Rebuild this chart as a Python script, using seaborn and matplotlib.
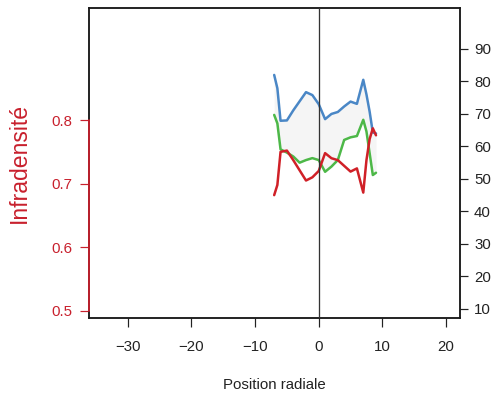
import numpy as np
import pandas as pd
import seaborn as sns
from matplotlib import pyplot as plt

# valeurs
position = [-7, -6.5, -6, -5, -4, -3, -2, -1, 0, 1, 2, 3, 4, 5, 6, 7, 7.5, 8, 8.5, 9]
bleu = [82.0, 77.9, 67.9, 68.0, 71.1, 73.9, 76.7, 75.8, 73.0, 68.4, 70.0, 70.6,
        72.3, 73.8, 73.1, 80.5, 76.0, 70.7, 64.3, 64.0]
vert = [69.7, 67.1, 59.1, 58.1, 56.9, 55.0, 55.8, 56.4, 55.8, 52.2, 53.8, 55.8,
        62.0, 62.8, 63.2, 68.2, 64.6, 57.9, 51.2, 51.9]
infradensite = [0.682, 0.698, 0.750, 0.752, 0.737, 0.721, 0.705, 0.710, 0.720, 0.748,
                0.740, 0.737, 0.728, 0.719, 0.724, 0.686, 0.737, 0.770, 0.787, 0.776]

xticks = [-30, -20, -10, 0, 10, 20]
yticks_gauche = [0.5, 0.6, 0.7, 0.8]
yticks_droite = [10, 20, 30, 40, 50, 60, 70, 80, 90]

rouge = '#c8202d'

df = pd.DataFrame({'position': position, 'bleu': bleu, 'vert': vert,
                   'infradensite': infradensite})

sns.set_theme(style="ticks")
plt.rcParams['font.family'] = ['Liberation Sans', 'DejaVu Sans']
plt.rcParams['axes.linewidth'] = 1.5

fig = plt.figure(figsize=(7, 5.5), dpi=72)
ax = fig.add_axes([89/504, 1 - 318/396, (460 - 89)/504, (318 - 8)/396])
ax2 = ax.twinx()

# series de droite
ax2.fill_between(df.position, df.bleu, df.vert, color='#f5f5f5', lw=0)
sns.lineplot(data=df, x='position', y='bleu', ax=ax2, color='#4a87c6', lw=2.5)
sns.lineplot(data=df, x='position', y='vert', ax=ax2, color='#4db848', lw=2.5)

# infradensite a gauche
sns.lineplot(data=df, x='position', y='infradensite', ax=ax, color='#d02027', lw=2.5)
ax.axvline(0, color='#333333', lw=1.3, zorder=5)

ax.set_zorder(ax2.get_zorder() + 1)
ax.patch.set_visible(False)

ax.set_xlim(-36.1, 22.2)
ax.set_ylim(0.489, 0.976)
ax2.set_ylim(7.2, 102.6)

ax.set_xticks(xticks)
ax.set_yticks(yticks_gauche)
ax.set_yticklabels(['0.5', '0.6', '0.7', '0.8'])
ax2.set_yticks(yticks_droite)

for s in ax.spines.values():
    s.set_color('#1a1a1a')
for s in ax2.spines.values():
    s.set_color('#1a1a1a')
ax.plot([0, 0], [0.5, 0.8], transform=ax.get_yaxis_transform(), color=rouge,
        lw=1.8, clip_on=False, zorder=10)

ax.tick_params(axis='x', length=9, width=1.2, pad=13, labelsize=15, colors='#222222')
ax.tick_params(axis='y', length=9, width=1.2, pad=8, labelsize=15, colors=rouge)
ax2.tick_params(axis='y', length=8, width=1.2, pad=6, labelsize=15, colors='#222222')

ax.set_xlabel('Position radiale', fontsize=15, color='#222222', labelpad=24)
ax.set_ylabel('Infradensité', fontsize=23, color=rouge, labelpad=20)
ax2.set_ylabel('')

fig.savefig('out.png', dpi=72)
